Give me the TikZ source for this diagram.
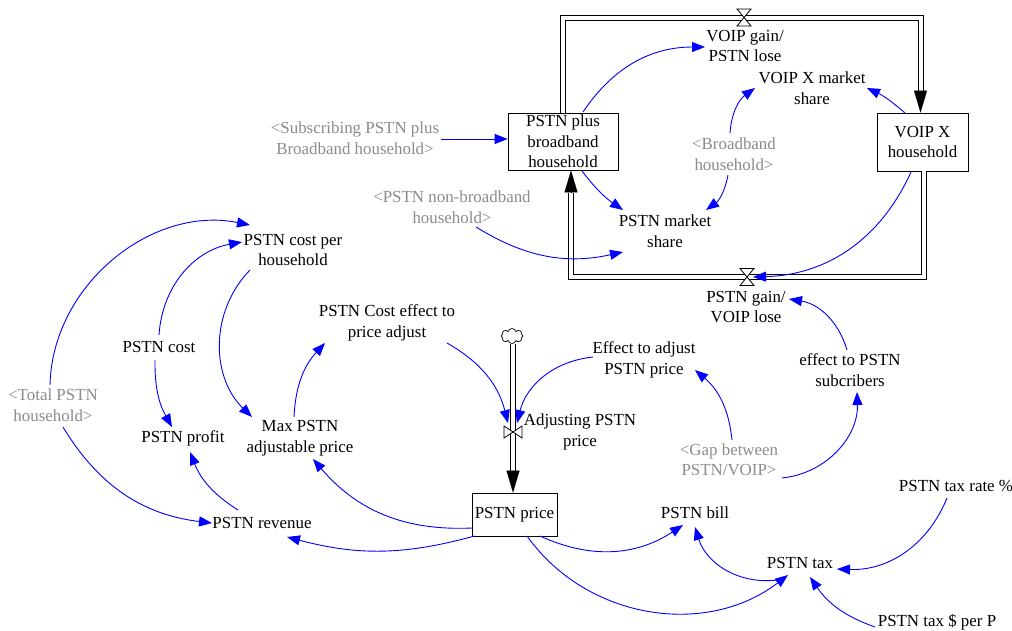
\documentclass[tikz,border=0pt]{standalone}
\usepackage{fontspec}
\setmainfont{Liberation Serif}
\usetikzlibrary{arrows.meta,shapes.symbols}
\definecolor{linkblue}{RGB}{0,0,255}
\definecolor{ghost}{RGB}{140,140,140}
\begin{document}
\begin{tikzpicture}[x=1pt,y=1pt,
  lbl/.style={font=\fontsize{16.9}{20.5}\selectfont, align=center, inner sep=1pt, text=black},
  shadow/.style={lbl, text=ghost},
  stock/.style={lbl, draw=black, line width=0.8pt, inner sep=0pt},
  link/.style={draw=linkblue, line width=0.9pt, -{Triangle[length=13pt,width=10pt]}},
  pipe/.style={draw=black, double=white, double distance=4pt, line width=1pt},
  pipehead/.style={-{Triangle[length=22pt,width=13pt]}, line width=0.1pt, draw=black, fill=black},
  valveshape/.style={draw=black, fill=white, line width=0.8pt},
  hglass/.pic={\draw[valveshape] (-7,8.5) -- (7,8.5) -- (0,0) -- cycle;
               \draw[valveshape] (-7,-8.5) -- (7,-8.5) -- (0,0) -- cycle;},
  bowtie/.pic={\draw[valveshape] (-9,6) -- (-9,-6) -- (0,0) -- cycle;
               \draw[valveshape] (9,6) -- (9,-6) -- (0,0) -- cycle;}
]
\useasboundingbox[fill=white] (0,0) rectangle (1012,-630);

% stocks
\node[stock, minimum width=110pt, minimum height=57pt] (ppb) at (563,-141.5) {PSTN plus\\broadband\\household};
\node[stock, minimum width=91pt, minimum height=58pt] (vx) at (922.5,-142) {VOIP X\\household};
\node[stock, minimum width=85pt, minimum height=43pt] (price) at (514.5,-514.5) {PSTN price};
\node[cloud, draw=black, line width=0.7pt, cloud puffs=8, aspect=1.4, minimum width=22pt, minimum height=15pt, inner sep=0pt] (cl) at (512,-336) {};

% pipes
\coordinate (tl) at (563,-17.5);
\coordinate (tr) at (920.5,-17.5);
\coordinate (tb) at (920.5,-91);
\draw[pipe] (ppb.north) -- (tl) -- (tr) -- (tb);
\draw[pipehead] (tb) -- ([xshift=-2pt]vx.north);

\coordinate (br) at (924,-277);
\coordinate (bl) at (571,-277);
\coordinate (bu) at (571,-193);
\draw[pipe] ([xshift=1.5pt]vx.south) -- (br) -- (bl) -- (bu);
\draw[pipehead] (bu) -- ([xshift=8pt]ppb.south);

\coordinate (pb) at (513,-472);
\draw[pipe] ([xshift=1pt]cl.south) -- (pb);
\draw[pipehead] (pb) -- ([xshift=-1.5pt]price.north);

% valves
\coordinate (v1) at (744,-17.5);
\coordinate (v2) at (747,-277);
\coordinate (v3) at (513,-432);
\pic at (v1) {hglass};
\pic at (v2) {hglass};
\pic at (v3) {bowtie};

% auxiliaries
\node[lbl] (vg) at (745,-46) {VOIP gain/\\PSTN lose};
\node[lbl] (vxms) at (812,-88) {VOIP X market\\share};
\node[shadow] (bb) at (734,-154) {<Broadband\\household>};
\node[lbl] (pms) at (665,-231) {PSTN market\\share};
\node[shadow] (nbb) at (452,-207) {<PSTN non-broadband\\household>};
\node[shadow] (sub) at (355,-138) {<Subscribing PSTN plus\\Broadband household>};
\node[lbl] (pg) at (746,-307) {PSTN gain/\\VOIP lose};
\node[lbl] (cph) at (293,-250) {PSTN cost per\\household};
\node[lbl] (cost) at (159,-347) {PSTN cost};
\node[shadow] (tot) at (53,-405) {<Total PSTN\\household>};
\node[lbl] (profit) at (183,-438) {PSTN profit};
\node[lbl] (max) at (300,-438) {Max PSTN\\adjustable price};
\node[lbl] (ceff) at (387,-323) {PSTN Cost effect to\\price adjust};
\node[lbl] (rev) at (262,-523) {PSTN revenue};
\node[lbl] (eadj) at (644,-360) {Effect to adjust\\PSTN price};
\node[lbl] (adj) at (580,-432) {Adjusting PSTN\\price};
\node[shadow] (gap) at (729,-460) {<Gap between\\PSTN/VOIP>};
\node[lbl] (esub) at (850,-370) {effect to PSTN\\subcribers};
\node[lbl] (bill) at (695,-513) {PSTN bill};
\node[lbl] (tax) at (800,-563) {PSTN tax};
\node[lbl] (rate) at (956,-486) {PSTN tax rate \%};
\node[lbl] (perp) at (937,-622) {PSTN tax \$ per P};

% links
\draw[link] ([shift={(20,29.5)}]ppb.center) to[bend left=28] ([shift={(-40,-1)}]vg.center);
\draw[link] ([shift={(19,-29.5)}]ppb.center) to[bend right=9] ([shift={(-42,21)}]pms.center);
\draw[link] ([shift={(-4,21)}]bb.center) to[bend left=25] ([shift={(-57,0)}]vxms.center);
\draw[link] ([shift={(-6,-21)}]bb.center) to[bend left=22] ([shift={(41,21)}]pms.center);
\draw[link] ([shift={(-17.5,29)}]vx.center) to[bend right=8] ([shift={(55,0)}]vxms.center);
\draw[link] ([shift={(-11.5,-30)}]vx.center) to[bend left=32] ([shift={(6,0)}]v2);
\draw[link] ([shift={(24,-20)}]nbb.center) to[bend right=22] ([shift={(-42,-21)}]pms.center);
\draw[link] ([shift={(86,-1)}]sub.center) -- ([yshift=2.5pt]ppb.west);
\draw[link] ([shift={(-3,20)}]esub.center) to[bend right=32] ([shift={(43,8)}]pg.center);
\draw[link] ([shift={(53,-18)}]gap.center) to[bend right=43] ([shift={(7,-22)}]esub.center);
\draw[link] ([shift={(3,20)}]gap.center) to[bend right=22] ([shift={(51,-10)}]eadj.center);
\draw[link] ([shift={(-51,3)}]eadj.center) to[bend right=35] ([shift={(4,9)}]v3);
\draw[link] ([shift={(60,-20)}]ceff.center) to[bend left=23] ([shift={(-5,9)}]v3);
\draw[link] ([shift={(-6,21)}]max.center) to[bend left=20] ([shift={(-62,-20)}]ceff.center);
\draw[link] ([shift={(-43,-20)}]cph.center) to[bend right=45] ([shift={(-48,21)}]max.center);
\draw[link] ([shift={(0,12)}]cost.center) to[bend left=38] ([shift={(-51,8)}]cph.center);
\draw[link] ([shift={(-4,-13)}]cost.center) to[bend right=15] ([shift={(-11,11)}]profit.center);
\draw[link] ([shift={(-3,20)}]tot.center) to[bend left=50] ([shift={(-43,25)}]cph.center);
\draw[link] ([shift={(10,-22)}]tot.center) to[bend right=26] ([shift={(-50,0)}]rev.center);
\draw[link] ([shift={(-24,13)}]rev.center) to[bend left=18] ([shift={(7,-14)}]profit.center);
\draw[link] ([shift={(-42.5,-13.5)}]price.center) to[bend left=26] ([shift={(13,-21)}]max.center);
\draw[link] ([shift={(-40,-21.5)}]price.center) to[bend left=15] ([shift={(25,-14)}]rev.center);
\draw[link] ([shift={(25.5,-21.5)}]price.center) to[bend right=29] ([shift={(-12,-12)}]bill.center);
\draw[link] ([shift={(12.5,-21.5)}]price.center) to[bend right=46] ([shift={(-12,-12)}]tax.center);
\draw[link] ([shift={(-23,-17)}]tax.center) to[bend left=40] ([shift={(0,-14)}]bill.center);
\draw[link] ([shift={(-9,-12)}]rate.center) to[bend left=35] ([shift={(37,-6)}]tax.center);
\draw[link] ([shift={(-62,-5)}]perp.center) to[bend left=18] ([shift={(10,-14)}]tax.center);
\end{tikzpicture}
\end{document}
